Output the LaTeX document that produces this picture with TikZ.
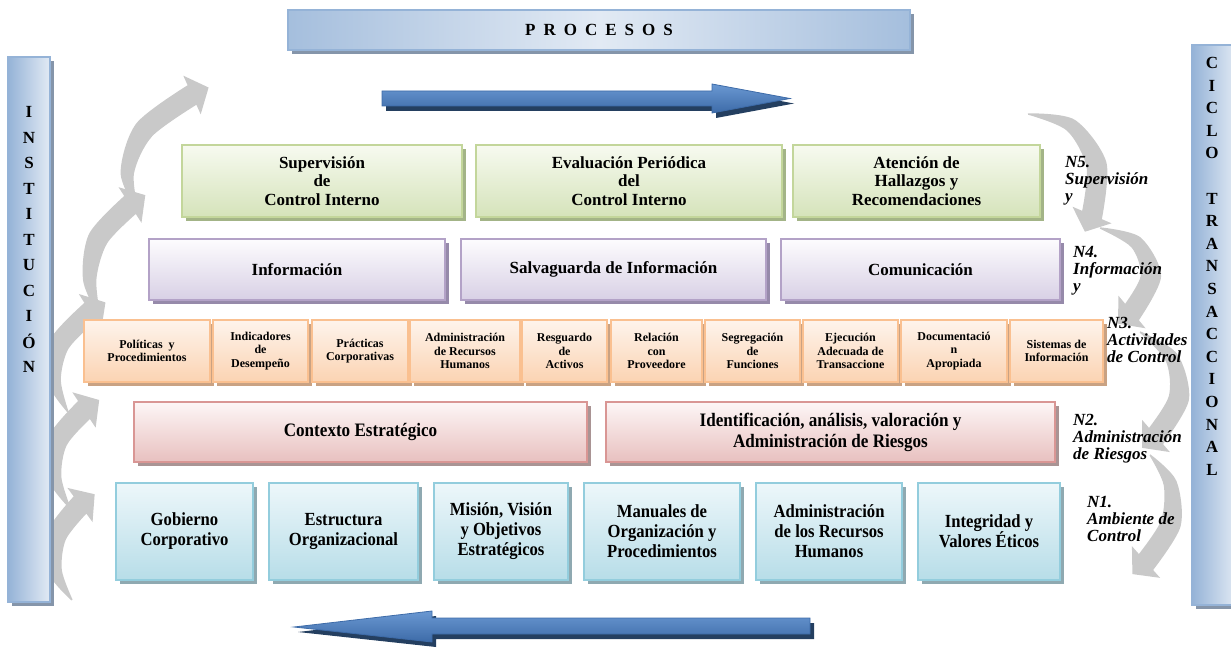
\documentclass[tikz,border=0pt]{standalone}
\usepackage{fontspec}
\setmainfont{Liberation Serif}
\newfontfamily\narrowfont[FakeStretch=0.9]{Liberation Serif}
\usetikzlibrary{shadows,arrows.meta}
\definecolor{gborder}{HTML}{C3D69B}\definecolor{gtop}{HTML}{F7FAF0}\definecolor{gbot}{HTML}{D5E3BA}\definecolor{gshadow}{HTML}{A3B487}
\definecolor{pborder}{HTML}{B3A2C7}\definecolor{ptop}{HTML}{FDFCFE}\definecolor{pbot}{HTML}{D8D0E5}\definecolor{pshadow}{HTML}{968AAA}
\definecolor{oborder}{HTML}{FAC090}\definecolor{otop}{HTML}{FEF4EC}\definecolor{obot}{HTML}{FBD3B2}\definecolor{oshadow}{HTML}{C9A283}
\definecolor{rborder}{HTML}{D99694}\definecolor{rtop}{HTML}{FDF6F6}\definecolor{rbot}{HTML}{E8C0BF}\definecolor{rshadow}{HTML}{A99494}
\definecolor{cborder}{HTML}{93CDDD}\definecolor{ctop}{HTML}{EDF7FA}\definecolor{cbot}{HTML}{B7DDE8}\definecolor{cshadow}{HTML}{8FA9B1}
\definecolor{bdark}{HTML}{95B3D7}\definecolor{blight}{HTML}{E2EAF4}\definecolor{bshadow}{HTML}{8595AA}
\definecolor{arrtop}{HTML}{6A98D2}\definecolor{arrbot}{HTML}{3D6BA8}\definecolor{arrshadow}{HTML}{243F60}
\definecolor{swirl}{HTML}{C9C9C9}
\tikzset{
  x=1pt,y=-1pt,
  base/.style={draw, line width=2pt, inner sep=0pt, align=center,
    font=\fontsize{17}{18.5}\selectfont\bfseries},
  shad/.style={drop shadow={shadow xshift=4pt, shadow yshift=-4pt, fill=#1, opacity=1}},
  greenbox/.style={base, draw=gborder, top color=gtop, bottom color=gbot, shad=gshadow},
  purplebox/.style={base, draw=pborder, top color=ptop, bottom color=pbot, shad=pshadow},
  orangebox/.style={base, draw=oborder, top color=otop, bottom color=obot, shad=oshadow,
    font=\fontsize{12}{13.5}\selectfont\bfseries},
  pinkbox/.style={base, draw=rborder, top color=rtop, bottom color=rbot, shad=rshadow,
    font=\fontsize{19}{21}\selectfont\narrowfont\bfseries},
  cyanbox/.style={base, draw=cborder, top color=ctop, bottom color=cbot, shad=cshadow,
    font=\fontsize{18.5}{20}\selectfont\narrowfont\bfseries},
  sidebar/.style={draw=bdark, line width=2pt, left color=bdark, right color=blight, shad=bshadow},
  barletter/.style={inner sep=0pt, font=\fontsize{17}{17}\selectfont\bfseries},
  levellabel/.style={anchor=north west, inner sep=0pt, align=left,
    font=\fontsize{17}{17}\selectfont\bfseries\itshape},
  swp/.style={sloped, allow upside down, inner sep=0pt, minimum width=0pt, shape=rectangle},
}
\newcommand{\swirlarr}[5]{%
  \path (#1) .. controls (#2) and (#3) .. (#4)
    node[swp, pos=0, minimum height=1pt] (#5a) {}
    node[swp, pos=0.3, minimum height=13pt] (#5b) {}
    node[swp, pos=0.65, minimum height=20pt] (#5c) {}
    node[swp, pos=1, minimum height=21pt] (#5d) {}
    node[swp, pos=1, minimum height=42pt, minimum width=36pt] (#5h) {};
  \fill[swirl] plot[smooth] coordinates {(#5a.north) (#5b.north) (#5c.north) (#5d.north)}
    -- (#5h.north) -- (#5h.east) -- (#5h.south) --
    plot[smooth] coordinates {(#5d.south) (#5c.south) (#5b.south) (#5a.south)} -- cycle;
}
\begin{document}
\begin{tikzpicture}
\useasboundingbox (0,0) rectangle (1231,650);
% gray circular arrows (left, going up)
\coordinate (la0) at (72,600); \coordinate (la1) at (80,505);
\coordinate (lb0) at (70,508); \coordinate (lb1) at (84,410);
\coordinate (lc0) at (68,412); \coordinate (lc1) at (90,312);
\coordinate (ld0) at (100,318); \coordinate (ld1) at (130,205);
\coordinate (le0) at (138,212); \coordinate (le1) at (192,95);
\swirlarr{la0}{45,572}{46,530}{la1}{sla}
\swirlarr{lb0}{45,478}{46,435}{lb1}{slb}
\swirlarr{lc0}{44,380}{48,338}{lc1}{slc}
\swirlarr{ld0}{80,275}{88,232}{ld1}{sld}
\swirlarr{le0}{113,170}{132,122}{le1}{sle}
% gray circular arrows (right, going down)
\coordinate (ra0) at (1028,114); \coordinate (ra1) at (1092,215);
\coordinate (rb0) at (1100,228); \coordinate (rb1) at (1132,312);
\coordinate (rc0) at (1140,332); \coordinate (rc1) at (1156,436);
\coordinate (rd0) at (1150,455); \coordinate (rd1) at (1146,562);
\swirlarr{ra0}{1085,110}{1112,168}{ra1}{sra}
\swirlarr{rb0}{1150,232}{1168,282}{rb1}{srb}
\swirlarr{rc0}{1188,352}{1192,405}{rc1}{src}
\swirlarr{rd0}{1182,480}{1182,530}{rd1}{srd}
% side bars and banner
\node[sidebar, minimum width=42pt, minimum height=545pt] (inst) at (29,329.5) {};
\node[sidebar, minimum width=45pt, minimum height=560pt] (ciclo) at (1214.5,325) {};
\node[sidebar, left color=bdark!85, right color=bdark!85, middle color=blight, minimum width=622pt, minimum height=40pt,
  font=\fontsize{17}{17}\selectfont\bfseries] (proc) at (599,30)
  {P\hspace{8pt}R\hspace{8pt}O\hspace{8pt}C\hspace{8pt}E\hspace{8pt}S\hspace{8pt}O\hspace{8pt}S};
\foreach \l [count=\i] in {I,N,S,T,I,T,U,C,I,Ó,N}
  \node[barletter] (inst\i) at (29,{112+25.5*(\i-1)}) {\l};
\foreach \l/\k [count=\i] in {C/0,I/1,C/2,L/3,O/4,T/6,R/7,A/8,N/9,S/10,A/11,C/12,C/13,I/14,O/15,N/16,A/17,L/18}
  \node[barletter] (cic\i) at (1212,{63+22.6*\k}) {\l};
% blue process arrows
\fill[arrshadow] (386,96) -- (716,96) -- (716,89) -- (794,103.5) -- (716,118) -- (716,111) -- (386,111) -- cycle;
\path[draw=arrbot, line width=0.8pt, top color=arrtop, bottom color=arrbot]
  (382,91) -- (712,91) -- (712,84) -- (790,98.5) -- (712,113) -- (712,106) -- (382,106) -- cycle;
\fill[arrshadow] (814,623) -- (436,623) -- (436,616) -- (298,632) -- (436,647) -- (436,639) -- (814,639) -- cycle;
\path[draw=arrbot, line width=0.8pt, top color=arrtop, bottom color=arrbot]
  (810,618) -- (432,618) -- (432,611) -- (294,627) -- (432,642) -- (432,634) -- (810,634) -- cycle;
% N5
\node[greenbox, minimum width=280pt, minimum height=72pt] (n5a) at (322,181) {Supervisión\\de\\Control Interno};
\node[greenbox, minimum width=306pt, minimum height=72pt] (n5b) at (629,181) {Evaluación Periódica\\del\\Control Interno};
\node[greenbox, minimum width=247pt, minimum height=72pt] (n5c) at (916.5,181) {Atención de\\Hallazgos y\\Recomendaciones};
% N4
\node[purplebox, minimum width=296pt, minimum height=61pt] (n4a) at (297,269.5) {Información};
\node[purplebox, minimum width=305pt, minimum height=61pt] (n4b) at (613.5,269.5) {Salvaguarda de Información};
\node[purplebox, minimum width=279pt, minimum height=61pt] (n4c) at (920.5,269.5) {Comunicación};
% N3
\node[orangebox, minimum width=126pt, minimum height=62pt] (n3a) at (147,351) {Políticas~~y\\Procedimientos};
\node[orangebox, minimum width=95pt, minimum height=62pt] (n3b) at (260.5,351) {Indicadores\\de\\Desempeño};
\node[orangebox, minimum width=96pt, minimum height=62pt] (n3c) at (360,351) {Prácticas\\Corporativas};
\node[orangebox, minimum width=110pt, minimum height=62pt] (n3d) at (465,351) {Administración\\de Recursos\\Humanos};
\node[orangebox, minimum width=85pt, minimum height=62pt] (n3e) at (564.5,351) {Resguardo\\de\\Activos};
\node[orangebox, minimum width=91pt, minimum height=62pt] (n3f) at (656.5,351) {Relación\\con\\Proveedore};
\node[orangebox, minimum width=95pt, minimum height=62pt] (n3g) at (752.5,351) {Segregación\\de\\Funciones};
\node[orangebox, minimum width=95pt, minimum height=62pt] (n3h) at (850.5,351) {Ejecución\\Adecuada de\\Transaccione};
\node[orangebox, minimum width=106pt, minimum height=62pt] (n3i) at (954,351) {Documentació\\n\\Apropiada};
\node[orangebox, minimum width=93pt, minimum height=62pt] (n3j) at (1056.5,351) {Sistemas de\\Información};
% N2
\node[pinkbox, minimum width=453pt, minimum height=60pt] (n2a) at (360.5,432) {Contexto Estratégico};
\node[pinkbox, minimum width=449pt, minimum height=60pt] (n2b) at (830.5,432) {Identificación, análisis, valoración y\\Administración de Riesgos};
% N1
\node[cyanbox, minimum width=137pt, minimum height=97pt] (n1a) at (184.5,531.5) {Gobierno\\Corporativo};
\node[cyanbox, minimum width=149pt, minimum height=97pt] (n1b) at (343.5,531.5) {Estructura\\Organizacional};
\node[cyanbox, minimum width=134pt, minimum height=97pt] (n1c) at (501,531.5) {Misión, Visión\\y Objetivos\\Estratégicos};
\node[cyanbox, minimum width=156pt, minimum height=97pt] (n1d) at (662,531.5) {Manuales de\\Organización y\\Procedimientos};
\node[cyanbox, minimum width=146pt, minimum height=97pt] (n1e) at (829,531.5) {Administración\\de los Recursos\\Humanos};
\node[cyanbox, minimum width=142pt, minimum height=97pt] (n1f) at (989,531.5) {Integridad y\\Valores Éticos};
% level labels
\node[levellabel] (l5) at (1065,156) {N5.\\Supervisión\\y};
\node[levellabel] (l4) at (1073,246) {N4.\\Información\\y};
\node[levellabel] (l3) at (1107,317) {N3.\\Actividades\\de Control};
\node[levellabel] (l2) at (1073,414) {N2.\\Administración\\de Riesgos};
\node[levellabel] (l1) at (1087,496) {N1.\\Ambiente de\\Control};
\end{tikzpicture}
\end{document}
